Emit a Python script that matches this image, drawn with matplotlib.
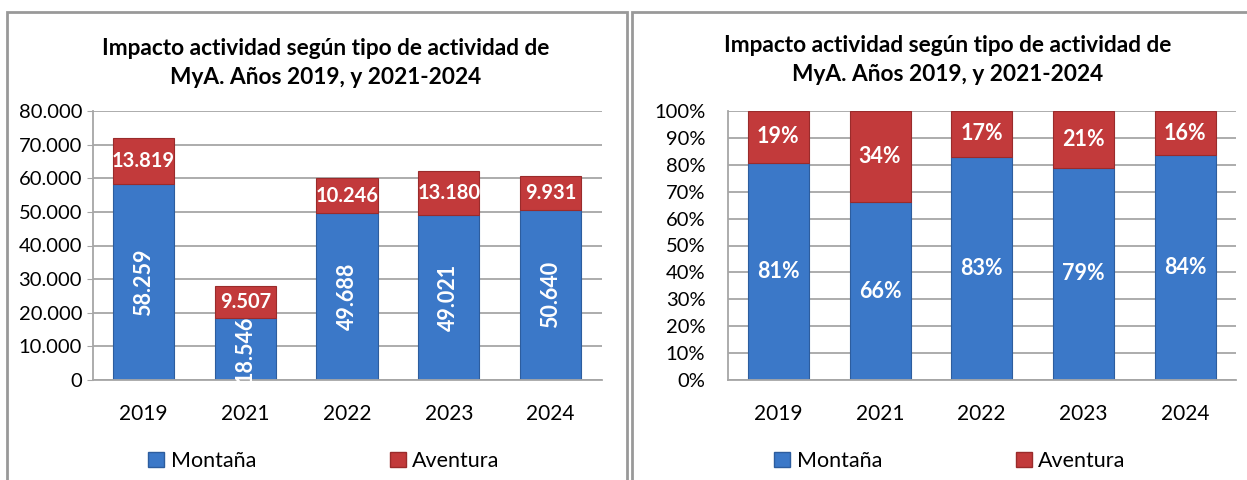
import matplotlib.pyplot as plt
import numpy as np
from matplotlib.patches import Rectangle, Patch

# Data
years = ['2019', '2021', '2022', '2023', '2024']
montana = [58259, 18546, 49688, 49021, 50640]
aventura = [13819, 9507, 10246, 13180, 9931]

title = 'Impacto actividad según tipo de actividad de\nMyA. Años 2019, y 2021-2024'

blue = '#3b78c8'
red = '#c23a3b'
blue_edge = '#2d5d9e'
red_edge = '#9a2b2b'
grid_col = '#a6a6a6'

plt.rcParams['font.family'] = ['Lato', 'DejaVu Sans']


def thousands(v):
    return f'{v:,.0f}'.replace(',', '.')


def style_axes(ax):
    ax.set_xlim(-0.5, len(years) - 0.5)
    ax.set_xticks(range(len(years)))
    ax.set_xticklabels(years)
    ax.tick_params(axis='x', length=0, pad=17, labelsize=15)
    ax.tick_params(axis='y', length=4, color=grid_col, labelsize=14.5)
    ax.grid(axis='y', color=grid_col, linewidth=1.3)
    ax.set_axisbelow(True)
    for s in ['top', 'right']:
        ax.spines[s].set_visible(False)
    for s in ['left', 'bottom']:
        ax.spines[s].set_color(grid_col)
        ax.spines[s].set_linewidth(1.3)


fig = plt.figure(figsize=(12.47, 4.8), dpi=100)

# panel borders
fig.patches.append(Rectangle((7 / 1247, -0.05), 620 / 1247, 1.05 - 12 / 480,
                             transform=fig.transFigure, fill=False,
                             edgecolor='#999999', linewidth=2))
fig.patches.append(Rectangle((632 / 1247, -0.05), 0.6, 1.05 - 12 / 480,
                             transform=fig.transFigure, fill=False,
                             edgecolor='#999999', linewidth=2))

x = np.arange(len(years))

# ---- left chart: absolute values
ax1 = fig.add_axes([92.5 / 1247, 100 / 480, 509 / 1247, 269 / 480])
ax1.bar(x, montana, width=0.6, color=blue, edgecolor=blue_edge, linewidth=0.8)
ax1.bar(x, aventura, width=0.6, bottom=montana, color=red, edgecolor=red_edge, linewidth=0.8)
ax1.set_ylim(0, 80000)
ax1.set_yticks(np.arange(0, 80001, 10000))
ax1.set_yticklabels([thousands(v) for v in np.arange(0, 80001, 10000)])
style_axes(ax1)
for i in range(len(years)):
    ax1.text(x[i], montana[i] / 2, thousands(montana[i]), rotation=90,
             ha='center', va='center', color='white', fontsize=15.5, fontweight='bold',
             clip_on=False)
    ax1.text(x[i], montana[i] + aventura[i] / 2, thousands(aventura[i]),
             ha='center', va='center', color='white', fontsize=14.5, fontweight='bold')
fig.text(326 / 1247, 1 - 63 / 480, title, ha='center', va='center',
         fontsize=16.3, fontweight='bold', linespacing=1.5)

# ---- right chart: shares
total = np.array(montana) + np.array(aventura)
share_m = np.array(montana) / total
share_a = np.array(aventura) / total

ax2 = fig.add_axes([727.5 / 1247, 100 / 480, 508.5 / 1247, 269 / 480])
ax2.bar(x, share_m, width=0.6, color=blue, edgecolor=blue_edge, linewidth=0.8)
ax2.bar(x, share_a, width=0.6, bottom=share_m, color=red, edgecolor=red_edge, linewidth=0.8)
ax2.set_ylim(0, 1)
ax2.set_yticks(np.arange(0, 1.01, 0.1))
ax2.set_yticklabels([f'{int(round(v * 100))}%' for v in np.arange(0, 1.01, 0.1)])
style_axes(ax2)
ax2.tick_params(axis='y', length=0, pad=16)
for i in range(len(years)):
    ax2.text(x[i], share_m[i] / 2, f'{share_m[i] * 100:.0f}%',
             ha='center', va='center', color='white', fontsize=15.5, fontweight='bold')
    ax2.text(x[i], share_m[i] + share_a[i] / 2, f'{share_a[i] * 100:.0f}%',
             ha='center', va='center', color='white', fontsize=15.5, fontweight='bold')
fig.text(948 / 1247, 1 - 60 / 480, title, ha='center', va='center',
         fontsize=16.3, fontweight='bold', linespacing=1.5)

# legends
handles = [Patch(facecolor=blue, edgecolor=blue_edge, label='Montaña'),
           Patch(facecolor=red, edgecolor=red_edge, label='Aventura')]
for cx in (324 / 1247, 950 / 1247):
    fig.legend(handles=handles, loc='center', bbox_to_anchor=(cx, 1 - 461 / 480),
               ncol=2, frameon=False, fontsize=15.5, handlelength=0.75, handleheight=0.75,
               handletextpad=0.3, columnspacing=6.2)

fig.savefig('out.png', dpi=100)
